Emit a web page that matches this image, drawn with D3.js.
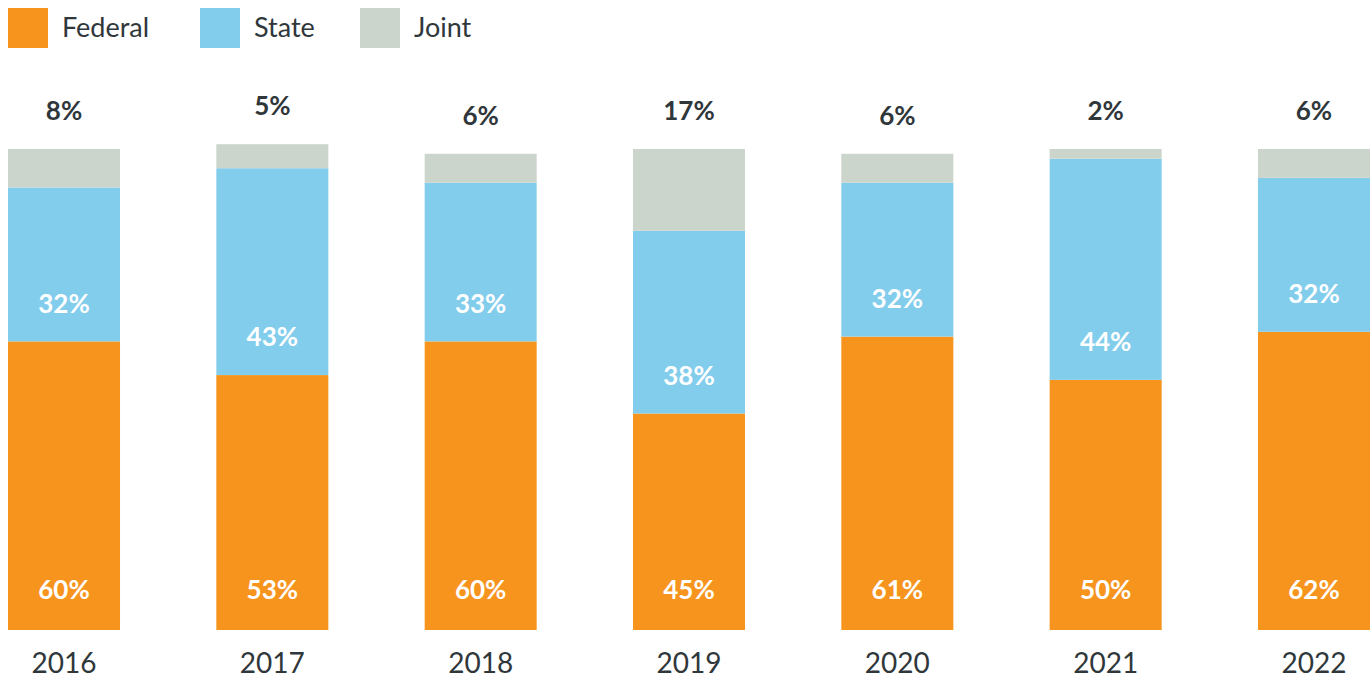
<!DOCTYPE html>
<html><head><meta charset="utf-8">
<script src="https://cdn.jsdelivr.net/npm/d3@7/dist/d3.min.js"></script>
<style>
html,body{margin:0;padding:0;background:#fff;}
svg{display:block;font-family:Lato,"Open Sans",sans-serif;}
</style></head>
<body><svg id="chart" width="1372" height="681"></svg>
<script>
const years = ["2016","2017","2018","2019","2020","2021","2022"];
const federal = [60, 53, 60, 45, 61, 52, 62];
const state = [32, 43, 33, 38, 32, 46, 32];
const joint = [8, 5, 6, 17, 6, 2, 6];
const federalLabels = ["60%","53%","60%","45%","61%","50%","62%"];
const stateLabels = ["32%","43%","33%","38%","32%","44%","32%"];
const jointLabels = ["8%","5%","6%","17%","6%","2%","6%"];
const seriesNames = ["Federal","State","Joint"];
const colors = ["#F7941E","#83CDEC","#CCD5CB"];

const svg = d3.select("#chart");
const x = d3.scaleBand().domain(years).range([8, 1370]).paddingInner(0.4623).paddingOuter(0);
const y = d3.scaleLinear().domain([0, 100]).range([630, 149]);

const rows = years.map((yr, i) => ({year: yr, Federal: federal[i], State: state[i], Joint: joint[i], i}));
const stack = d3.stack().keys(seriesNames)(rows);
const color = d3.scaleOrdinal().domain(seriesNames).range(colors);

svg.append("g").selectAll("g").data(stack).join("g")
  .attr("fill", d => color(d.key))
  .selectAll("rect").data(d => d).join("rect")
  .attr("x", d => x(d.data.year))
  .attr("width", x.bandwidth())
  .attr("y", d => y(d[1]))
  .attr("height", d => y(d[0]) - y(d[1]));

const g = svg.append("g");
g.selectAll(".fl").data(rows).join("text")
  .attr("x", d => x(d.year) + x.bandwidth()/2)
  .attr("y", y(0) - 40)
  .attr("dy", "0.35em").attr("text-anchor","middle")
  .attr("fill","#fff").attr("font-weight","700").attr("font-size",26)
  .text(d => federalLabels[d.i]);
g.selectAll(".sl").data(rows).join("text")
  .attr("x", d => x(d.year) + x.bandwidth()/2)
  .attr("y", d => y(d.Federal) - 38)
  .attr("dy", "0.35em").attr("text-anchor","middle")
  .attr("fill","#fff").attr("font-weight","700").attr("font-size",26)
  .text(d => stateLabels[d.i]);
g.selectAll(".jl").data(rows).join("text")
  .attr("x", d => x(d.year) + x.bandwidth()/2)
  .attr("y", d => y(d.Federal + d.State + d.Joint) - 38)
  .attr("dy", "0.35em").attr("text-anchor","middle")
  .attr("fill","#30373b").attr("font-weight","700").attr("font-size",26)
  .text(d => jointLabels[d.i]);

const xAxis = svg.append("g").attr("transform", "translate(0,630)")
  .call(d3.axisBottom(x).tickSize(0).tickPadding(0));
xAxis.select(".domain").remove();
xAxis.selectAll("text").attr("font-size",28).attr("fill","#30373b")
  .attr("font-family","Lato, 'Open Sans', sans-serif")
  .attr("y", 33).attr("dy","0.35em");

const legX = [8, 200, 360];
const leg = svg.append("g").selectAll("g").data(seriesNames).join("g")
  .attr("transform", (d, i) => `translate(${legX[i]},8)`);
leg.append("rect").attr("width",40).attr("height",40).attr("fill", d => color(d));
leg.append("text").attr("x",54).attr("y",20).attr("dy","0.35em")
  .attr("font-size",27).attr("fill","#30373b").text(d => d);
</script></body></html>
